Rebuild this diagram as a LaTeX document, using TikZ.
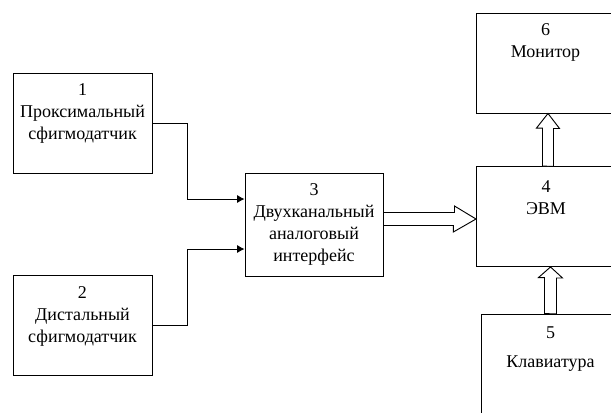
\documentclass[tikz,border=0pt]{standalone}
\usepackage{fontspec}
\setmainfont{Liberation Serif}
\usepackage{tikz}
\usetikzlibrary{arrows.meta, positioning, calc}

\begin{document}
\begin{tikzpicture}[
    x=0.75pt, y=-0.75pt,
    box/.style={rectangle, draw, line width=0.7pt, minimum width=104.25pt, minimum height=75pt, inner sep=0pt},
    lbl/.style={align=center, inner sep=0pt, font=\fontsize{13.5}{16.5}\selectfont},
    arrow/.style={-{Latex[length=5.5pt, width=6pt]}, line width=0.7pt},
    hollow/.style={draw, line width=0.7pt, fill=white, line join=miter},
]
\path[use as bounding box] (0,0) rectangle (611,412);
\clip (0,0) rectangle (611,412);

% Boxes
\node[box] (sens1) at (82.5,123) {};
\node[box] (sens2) at (82.5,325.7) {};
\node[box, minimum width=103.5pt, minimum height=77.25pt] (iface) at (314,224.5) {};
\node[box] (evm) at (546,216.5) {};
\node[box] (monitor) at (545.5,63) {};
\node[box] (keyb) at (550.5,364) {};

% Texts
\node[lbl, below=8pt of sens1.north] (sens1txt) {1\\Проксимальный\\сфигмодатчик};
\node[lbl, below=8pt of sens2.north] (sens2txt) {2\\Дистальный\\сфигмодатчик};
\node[lbl, below=8pt of iface.north] (ifacetxt) {3\\Двухканальный\\аналоговый\\интерфейс};
\node[lbl, below=10.5pt of evm.north] (evmtxt) {4\\ЭВМ};
\node[lbl, below=8pt of monitor.north] (monitortxt) {6\\Монитор};
\node[lbl, below=10pt of keyb.north, font=\fontsize{13.5}{21.5}\selectfont] (keybtxt) {5\\Клавиатура};

% Arrows
\draw[arrow] (sens1.east) -- ++(35,0) |- ($(iface.west)+(0,-25.5)$);
\draw[arrow] (sens2.east) -- ++(35,0) |- ($(iface.west)+(0,24.5)$);

% Wide arrows
\draw[hollow] ($(iface.east)+(0,-12)$) -- ++(71,0) -- ++(0,-6.5) -- ($(evm.west)+(0,2.5)$)
    -- ++(-22.7,13) -- ++(0,-6.5) -- ($(iface.east)+(0,1)$) -- cycle;
\draw[hollow] ($(evm.north)+(-3.5,0)$) -- ++(0,-38) -- ++(-6,0) -- ($(monitor.south)+(2.5,0)$)
    -- ++(11.5,15) -- ++(-6,0) -- ++(0,38) -- cycle;
\draw[hollow] ($(keyb.north)+(-6,0)$) -- ++(0,-36) -- ++(-6,0) -- (keyb.north |- evm.south)
    -- ++(12,11) -- ++(-6,0) -- ++(0,36) -- cycle;

\end{tikzpicture}
\end{document}
